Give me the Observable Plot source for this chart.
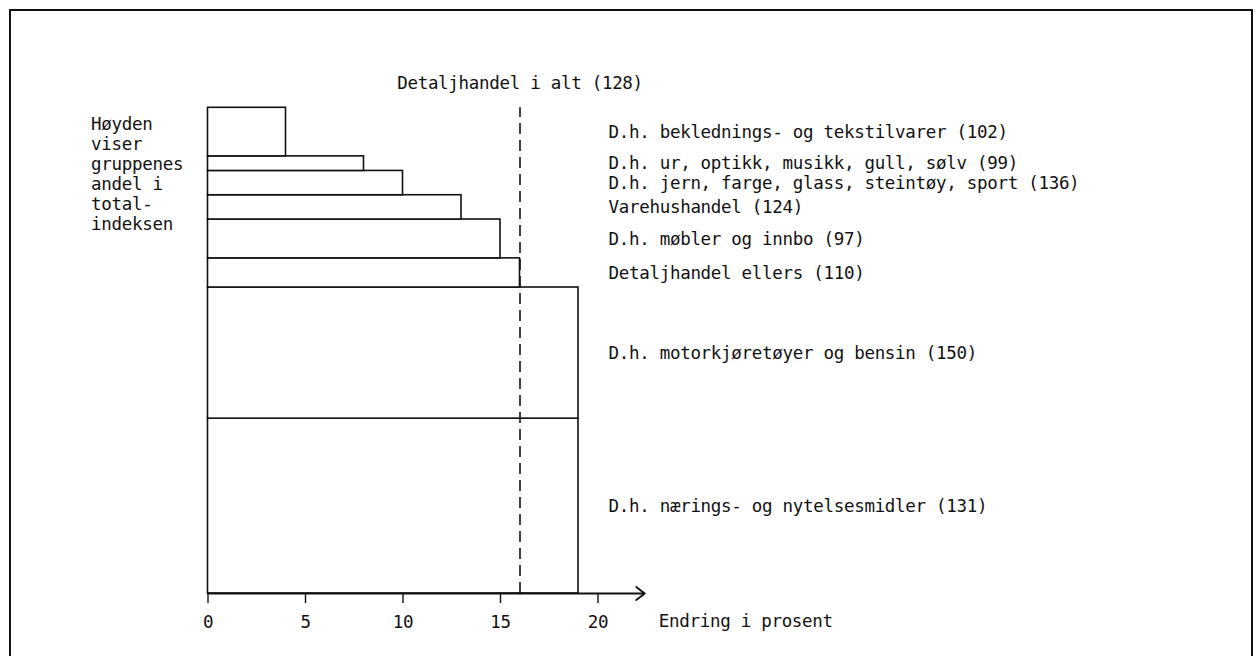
<!DOCTYPE html>
<html><head><meta charset="utf-8">
<script src="https://cdn.jsdelivr.net/npm/d3@7"></script>
<script src="https://cdn.jsdelivr.net/npm/@observablehq/plot@0.6"></script>
<style>
body{margin:0;background:#fff;}
#wrap{position:relative;width:1260px;height:656px;overflow:hidden;background:#fff;}
#wrap svg{position:absolute;left:0;top:0;}
#frame{position:absolute;left:9px;top:9px;width:1240px;height:720px;border:2px solid #111;pointer-events:none;}
</style></head>
<body><div id="wrap"></div>
<script>
// Groups from bottom to top of the stack
const groups = ["D.h. nærings- og nytelsesmidler", "D.h. motorkjøretøyer og bensin", "Detaljhandel ellers", "D.h. møbler og innbo", "Varehushandel", "D.h. jern, farge, glass, steintøy, sport", "D.h. ur, optikk, musikk, gull, sølv", "D.h. beklednings- og tekstilvarer"];
const indexValues = [131, 150, 110, 97, 124, 136, 99, 102];
const changePct = [19, 19, 16, 15, 13, 10, 8, 4];      // bar length (Endring i prosent)
const weightPct = [36, 27, 6, 8, 5, 5, 3, 10];         // bar height (andel i totalindeksen)
const totalLabel = "Detaljhandel i alt";
const totalIndex = 128;
const totalChange = 16;
const xTicks = [0, 5, 10, 15, 20];
const xMax = 22.4;
const heightNote = ["Høyden", "viser", "gruppenes", "andel i", "total-", "indeksen"];
const axisTitle = "Endring i prosent";

let acc = 0;
const data = groups.map((name, i) => {
  const y0 = acc; acc += weightPct[i];
  return {name, index: indexValues[i], change: changePct[i], y0, y1: acc, ym: (y0 + acc) / 2};
});

const ink = "#111";
const font = "'DejaVu Sans Mono', monospace";

const chart = Plot.plot({
  width: 1260,
  height: 656,
  marginLeft: 207.5,
  marginRight: 615.7,
  marginTop: 107.3,
  marginBottom: 63,
  style: {fontFamily: font, fontSize: "17.5px", letterSpacing: "-0.3px", color: ink, background: "transparent"},
  x: {domain: [0, xMax]},
  y: {domain: [0, acc], axis: null},
  marks: [
    Plot.rect(data, {x1: 0, x2: "change", y1: "y0", y2: "y1", fill: "white", stroke: ink, strokeWidth: 1.6}),
    Plot.ruleX([totalChange], {y1: 0, y2: acc, stroke: ink, strokeWidth: 1.6, strokeDasharray: "11,6"}),
    Plot.arrow([xMax], {x1: 0, x2: d => d, y1: 0, y2: 0, stroke: ink, strokeWidth: 1.8, headLength: 9, headAngle: 75}),
    Plot.axisX({ticks: xTicks, tickSize: 10, tickPadding: 12, tickFormat: d => d, label: null, stroke: ink, strokeWidth: 1.4, fill: ink}),
    Plot.text(data, {y: "ym", text: d => `${d.name} (${d.index})`, frameAnchor: "right", dx: -36.3, textAnchor: "start", fill: ink}),
    Plot.text([totalChange], {x: d => d, y: acc, dy: -24.3, text: () => `${totalLabel} (${totalIndex})`, fill: ink}),
    Plot.text([heightNote.join("\n")], {text: d => d, frameAnchor: "top-left", dx: -117, dy: 8.5, textAnchor: "start", lineAnchor: "top", lineHeight: 1.14, fill: ink}),
    Plot.text([axisTitle], {text: d => d, frameAnchor: "bottom-right", dx: 14, dy: 33, textAnchor: "start", fill: ink})
  ]
});

const wrap = document.getElementById("wrap");
wrap.appendChild(chart);
const frame = document.createElement("div");
frame.id = "frame";
wrap.appendChild(frame);
</script>
</body></html>
